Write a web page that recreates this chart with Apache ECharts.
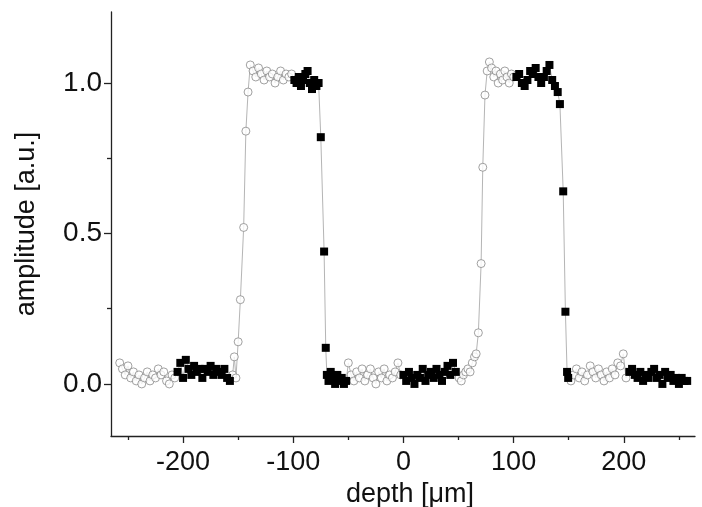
<!DOCTYPE html>
<html><head><meta charset="utf-8">
<script src="https://cdn.jsdelivr.net/npm/echarts@6/dist/echarts.min.js"></script>
<style>html,body{margin:0;padding:0;background:#fff}#c{width:702px;height:507px}</style>
</head><body><div id="c"></div><script>
// open circles (depth in µm, amplitude in a.u.)
const circleDepth = [
  -257.5,-255,-252.5,-250,-247.5,-245,-242.5,-240,-237.5,-235,-232.5,-230,-227.5,-225,-222.5,-220,-217.5,-215,-212.5,-210,-207.5,
  -155,-153.5,-152,-150,-148,-145,-143,-141,-139,-136.5,-134,-131.5,-129,-126.5,-124,-121.5,-119,-116.5,-114,-111.5,-109,-106.5,-104,-101.5,
  -50,-47.5,-45,-42.5,-40,-37.5,-35,-32.5,-30,-27.5,-25,-22.5,-20,-17.5,-15,-12.5,-10,-7.5,-5,-2.5,
  50.5,52.5,54.5,56.5,58.5,60.5,62.5,64.5,66,68,70.5,72,74,76,78,80,82,84,86,88,90,92,94,96,98,100,
  152,154.5,157,159.5,162,164.5,167,169.5,172,174.5,177,179.5,182,184.5,187,189.5,192,194.5,197,199.5,202
];
const circleAmp = [
  0.07,0.05,0.03,0.06,0.02,0.04,0.01,0.03,0.00,0.02,0.04,0.01,0.03,0.02,0.05,0.03,0.04,0.01,0.00,0.03,0.02,
  0.03,0.09,0.02,0.14,0.28,0.52,0.84,0.97,1.06,1.04,1.02,1.05,1.03,1.01,1.04,1.02,1.03,1.00,1.02,1.04,1.01,1.03,1.02,1.03,
  0.07,0.03,0.01,0.04,0.02,0.05,0.01,0.03,0.05,0.02,0.00,0.04,0.02,0.05,0.01,0.03,0.02,0.04,0.07,0.03,
  0.02,0.01,0.03,0.04,0.05,0.04,0.07,0.09,0.10,0.17,0.40,0.72,0.96,1.04,1.07,1.05,1.02,1.04,1.00,1.03,1.01,1.04,1.02,1.00,1.03,1.02,
  0.01,0.03,0.05,0.02,0.04,0.01,0.03,0.06,0.04,0.02,0.05,0.03,0.01,0.04,0.02,0.05,0.03,0.07,0.06,0.10,0.02
];
// filled squares
const squareDepth = [
  -205,-202.5,-200,-197.5,-195,-192.5,-190,-187.5,-185,-182.5,-180,-177.5,-175,-172.5,-170,-167.5,-165,-162.5,-160,-157.5,
  -99,-97,-95,-93,-91,-89,-87,-85,-83,-81,-79,-77,-75,-72,-70.5,-69.5,-68,-66,-64,-62,-60,-58,-56,-54,-52,
  0,2.5,5,7.5,10,12.5,15,17.5,20,22.5,25,27.5,30,32.5,35,37.5,40,42.5,45,47.5,
  102.5,105,107.5,110,112.5,115,117.5,120,122.5,125,127.5,130,132.5,135,137.5,140,142,145,147,148.5,149.5,
  205,207.5,210,212.5,215,217.5,220,222.5,225,227.5,230,232.5,235,237.5,240,242.5,245,247.5,250,252.5,255,257.5
];
const squareAmp = [
  0.04,0.07,0.02,0.08,0.05,0.03,0.06,0.04,0.05,0.02,0.05,0.04,0.06,0.03,0.05,0.04,0.03,0.05,0.02,0.01,
  1.01,1.00,1.02,0.99,1.01,1.03,1.04,1.00,0.98,1.01,0.99,1.00,0.82,0.44,0.12,0.03,0.01,0.04,0.02,0.00,0.03,0.01,0.02,0.00,0.01,
  0.03,0.01,0.04,0.02,0.00,0.03,0.02,0.05,0.01,0.03,0.04,0.02,0.05,0.03,0.01,0.04,0.06,0.03,0.07,0.04,
  1.02,1.03,1.00,0.99,1.01,1.04,1.03,1.05,1.02,1.00,1.02,1.04,1.06,1.01,0.99,0.97,0.93,0.64,0.24,0.04,0.02,
  0.04,0.05,0.03,0.02,0.04,0.01,0.03,0.02,0.04,0.05,0.02,0.03,0.00,0.04,0.02,0.03,0.01,0.02,0.00,0.02,0.01,0.01
];
const xMajorTicks = [-200, -100, 0, 100, 200];
const xMinorTicks = [-250, -150, -50, 50, 150, 250];
const yMajorTicks = [0, 0.5, 1.0];
const yMinorTicks = [0.25, 0.75];

const circles = circleDepth.map((d, i) => [d, circleAmp[i]]);
const squares = squareDepth.map((d, i) => [d, squareAmp[i]]);
const curve = circles.concat(squares).sort((a, b) => a[0] - b[0]);

const FONT = '"Liberation Sans", Arial, Helvetica, sans-serif';
const TXT = '#111';
const AX = '#222';
const xRange = { min: -265.4, max: 264.6 };
const yRange = { min: -0.173, max: 1.236 };

const chart = echarts.init(document.getElementById('c'), null, { renderer: 'canvas' });
chart.setOption({
  animation: false,
  backgroundColor: '#fff',
  grid: { left: 111, right: 7, top: 12, bottom: 71, containLabel: false, outerBoundsMode: 'none' },
  xAxis: [
    {
      type: 'value', gridIndex: 0, position: 'bottom', ...xRange,
      name: 'depth [μm]', nameLocation: 'middle', nameGap: 44,
      nameTextStyle: { fontFamily: FONT, fontSize: 27, color: TXT, padding: [0, 0, 0, 14] },
      axisLine: { show: true, onZero: false, lineStyle: { color: AX, width: 1.3 } },
      axisTick: { show: true, inside: false, length: 7, customValues: xMajorTicks, lineStyle: { color: AX, width: 1.3 } },
      axisLabel: { show: true, customValues: xMajorTicks, margin: 13, fontFamily: FONT, fontSize: 27, color: TXT,
        formatter: v => String(Math.round(v)) },
      splitLine: { show: false }
    },
    {
      type: 'value', gridIndex: 0, position: 'bottom', ...xRange,
      axisLine: { show: false, onZero: false },
      axisTick: { show: true, inside: false, length: 4, customValues: xMinorTicks, lineStyle: { color: AX, width: 1.3 } },
      axisLabel: { show: false },
      splitLine: { show: false }
    }
  ],
  yAxis: [
    {
      type: 'value', gridIndex: 0, position: 'left', ...yRange,
      name: 'amplitude [a.u.]', nameLocation: 'middle', nameGap: 71,
      nameTextStyle: { fontFamily: FONT, fontSize: 27, color: TXT },
      axisLine: { show: true, onZero: false, lineStyle: { color: AX, width: 1.3 } },
      axisTick: { show: true, inside: false, length: 7, customValues: yMajorTicks, lineStyle: { color: AX, width: 1.3 } },
      axisLabel: { show: true, customValues: yMajorTicks, margin: 9, fontFamily: FONT, fontSize: 28, color: TXT,
        formatter: v => v.toFixed(1) },
      splitLine: { show: false }
    },
    {
      type: 'value', gridIndex: 0, position: 'left', ...yRange,
      axisLine: { show: false, onZero: false },
      axisTick: { show: true, inside: false, length: 4, customValues: yMinorTicks, lineStyle: { color: AX, width: 1.3 } },
      axisLabel: { show: false },
      splitLine: { show: false }
    }
  ],
  series: [
    {
      type: 'line', data: curve, xAxisIndex: 0, yAxisIndex: 0,
      showSymbol: false, symbol: 'none', smooth: false,
      lineStyle: { color: '#b5b5b5', width: 1 }, z: 1, silent: true
    },
    {
      type: 'scatter', data: circles, xAxisIndex: 0, yAxisIndex: 0,
      symbol: 'circle', symbolSize: 8,
      itemStyle: { color: '#fff', borderColor: '#8a8a8a', borderWidth: 1 }, z: 2
    },
    {
      type: 'scatter', data: squares, xAxisIndex: 0, yAxisIndex: 0,
      symbol: 'rect', symbolSize: 8,
      itemStyle: { color: '#000', borderColor: '#000', borderWidth: 0, opacity: 1 }, z: 3
    }
  ]
});
</script></body></html>
